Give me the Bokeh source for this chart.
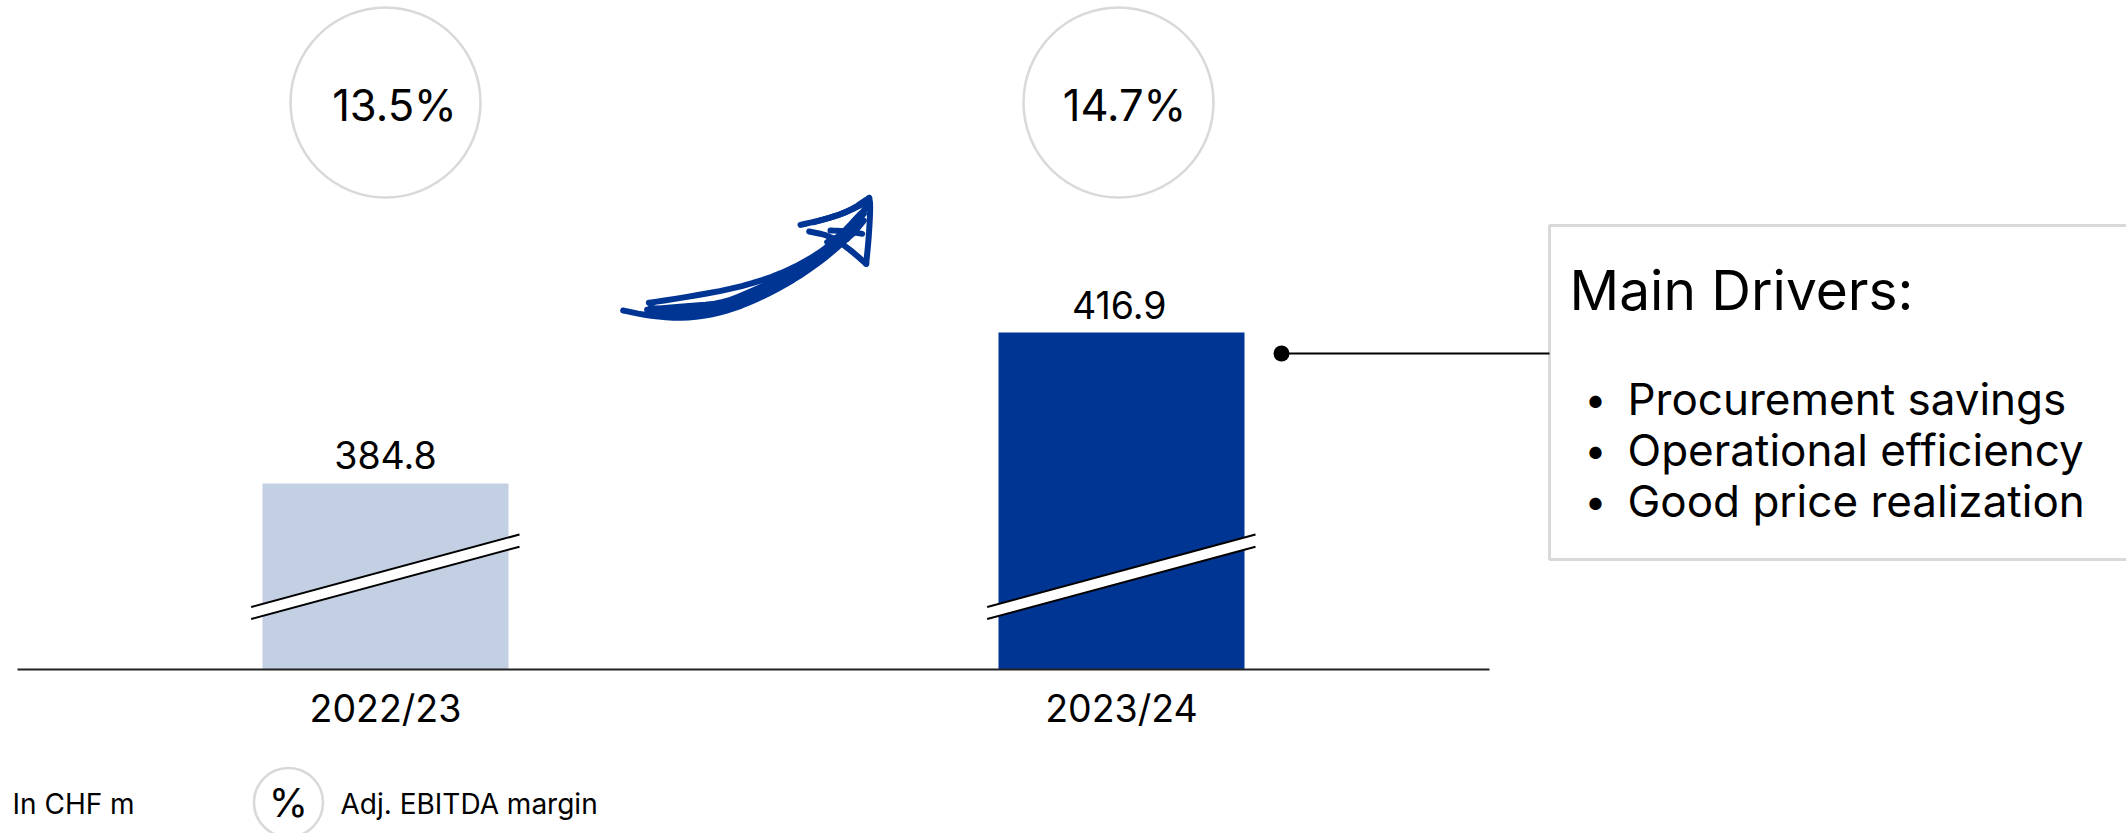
from bokeh.core.properties import value
from bokeh.embed import file_html
from bokeh.models import FixedTicker, LinearAxis, Range1d
from bokeh.plotting import figure
from bokeh.resources import INLINE

# Figures in CHF m
years = ["2022/23", "2023/24"]
ebitda = [384.8, 416.9]
margins = ["13.5%", "14.7%"]
bar_colors = ["#c3cfe2", "#003594"]

heading = "Main Drivers:"
drivers = ["Procurement savings", "Operational efficiency", "Good price realization"]

W, H = 2126, 833
FONT = "Inter"
INK = "#000000"
RING = "#d9d9d9"

# The value axis is cut: 4.704 px per CHF m, with the baseline near CHF 345 m
PX_PER_UNIT = 4.704
BASE_PX = 669
TOP_VALUE_PX = 332
base_value = ebitda[1] - (BASE_PX - TOP_VALUE_PX) / PX_PER_UNIT
y_start = base_value - (H - BASE_PX) / PX_PER_UNIT
y_end = ebitda[1] + TOP_VALUE_PX / PX_PER_UNIT

# Category slots: first centre and spacing in page pixels
SLOT0_PX, SLOT_PX = 385, 736
x_start = -SLOT0_PX / SLOT_PX
x_end = (W - SLOT0_PX) / SLOT_PX
slots = list(range(len(years)))

p = figure(
    width=W, height=H, output_backend="svg", toolbar_location=None,
    x_range=Range1d(x_start, x_end), y_range=Range1d(y_start, y_end),
    x_axis_location=None, y_axis_location=None, min_border=0,
    outline_line_color=None, background_fill_color="white", border_fill_color="white",
)
p.grid.visible = False
# Page-pixel ranges for the annotation furniture
p.extra_x_ranges["page"] = Range1d(0, W)
p.extra_y_ranges["page"] = Range1d(H, 0)
PAGE = dict(x_range_name="page", y_range_name="page")

# Bars
p.vbar(x=slots, bottom=base_value, top=ebitda, width=246 / SLOT_PX,
       fill_color=bar_colors, line_color=None)

# Axis break marks across each bar
for x0 in (250.7, 986.7):
    x1 = x0 + 268.3
    p.patch([x0, x1, x1, x0], [606.5, 534, 546.2, 618.5], fill_color="white", line_color=None, **PAGE)
    p.segment([x0, x0], [606.5, 618.5], [x1, x1], [534, 546.2], line_color=INK, line_width=2, **PAGE)

# Value labels above the bars
p.text(x=[0, 0.997], y=ebitda, text=[f"{v:.1f}" for v in ebitda], y_offset=-28,
       text_align="center", text_baseline="middle", text_font=value(FONT),
       text_font_size="37.5px", text_color=INK)

# Category axis at the cut baseline
axis = LinearAxis(ticker=FixedTicker(ticks=slots),
                  major_label_overrides={i: y for i, y in zip(slots, years)})
axis.fixed_location = base_value
axis.bounds = ((17 - SLOT0_PX) / SLOT_PX, (1489 - SLOT0_PX) / SLOT_PX)
axis.axis_line_color = "#222222"
axis.axis_line_width = 2
axis.major_tick_line_color = None
axis.minor_tick_line_color = None
axis.major_label_standoff = 10
axis.major_label_text_font = FONT
axis.major_label_text_font_size = "37.5px"
axis.major_label_text_color = INK
axis.level = "overlay"
p.add_layout(axis, "below")

# Margin rings
p.scatter(x=[385, 1118], y=[102, 102], size=190, marker="circle", fill_color="white",
          line_color=RING, line_width=2.5, **PAGE)
p.text(x=[394, 1124], y=[104, 104], text=margins, text_align="center", text_baseline="middle",
       text_font=value(FONT), text_font_size="43.5px", text_color=INK, **PAGE)


def rounded(stroke, passes=2):
    """Corner-cut a traced pen stroke so it reads as a freehand curve."""
    for _ in range(passes):
        out = [stroke[0]]
        for (a, b), (c, d) in zip(stroke, stroke[1:]):
            out += [(0.75 * a + 0.25 * c, 0.75 * b + 0.25 * d), (0.25 * a + 0.75 * c, 0.25 * b + 0.75 * d)]
        stroke = out + [stroke[-1]]
    return stroke


# Hand-drawn upward arrow, traced stroke by stroke in a local 3x grid
arrow_strokes = [
    [(128, 420), (200, 435), (290, 444), (380, 436), (470, 412), (560, 372), (650, 322), (730, 266), (800, 205), (860, 105)],
    [(205, 397), (330, 378), (470, 352), (590, 315), (690, 265), (760, 215), (840, 130)],
    [(200, 418), (300, 408), (420, 400), (500, 368), (600, 322), (700, 266), (790, 190), (850, 120)],
    [(205, 430), (300, 436), (400, 426), (500, 392), (600, 342), (700, 284), (800, 205)],
    [(210, 412), (300, 422), (400, 414), (500, 380), (590, 334), (690, 276), (790, 205), (840, 140)],
    [(660, 163), (740, 145), (810, 120), (866, 82)],
    [(700, 155), (790, 130), (866, 90)],
    [(866, 82), (870, 105), (865, 200), (857, 280)],
    [(857, 280), (800, 230), (745, 195), (686, 183)],
    [(750, 180), (800, 182), (845, 190)],
    [(740, 215), (790, 190), (850, 130)],
    [(760, 225), (810, 200), (850, 150)],
]
arrow_paths = [rounded(s) for s in arrow_strokes]
p.multi_line(xs=[[580 + a / 3 for a, _ in s] for s in arrow_paths],
             ys=[[170 + b / 3 for _, b in s] for s in arrow_paths],
             line_color="#003594", line_width=6, line_cap="round", line_join="round", **PAGE)

# Drivers call-out: box runs off the right edge
p.quad(left=[1549], right=[W + 10], top=[225], bottom=[559], fill_color="white",
       line_color=RING, line_width=3, **PAGE)
p.segment([1281], [353], [1549], [353], line_color=INK, line_width=2, **PAGE)
p.scatter(x=[1281], y=[353], size=16, marker="circle", fill_color=INK, line_color=None, **PAGE)
p.text(x=[1569], y=[289], text=[heading], text_baseline="middle", text_font=value(FONT),
       text_font_size="55px", text_color=INK, **PAGE)
driver_mid = [398, 449, 500]
p.text(x=[1627] * 3, y=driver_mid, text=drivers, text_baseline="middle", text_font=value(FONT),
       text_font_size="44px", text_color=INK, **PAGE)
p.text(x=[1595] * 3, y=driver_mid, text=["•"] * 3, text_align="center", text_baseline="middle",
       text_font=value(FONT), text_font_size="39px", text_color=INK, **PAGE)

# Footer: unit and legend
p.scatter(x=[288], y=[802], size=69, marker="circle", fill_color="white", line_color=RING, line_width=2.5, **PAGE)
p.text(x=[288], y=[802], text=["%"], text_align="center", text_baseline="middle",
       text_font=value(FONT), text_font_size="40px", text_color=INK, **PAGE)
p.text(x=[12, 340], y=[803, 803], text=["In CHF m", "Adj. EBITDA margin"], text_baseline="middle",
       text_font=value(FONT), text_font_size="28px", text_color=INK, **PAGE)

open("out.html", "w").write(file_html(p, INLINE))
